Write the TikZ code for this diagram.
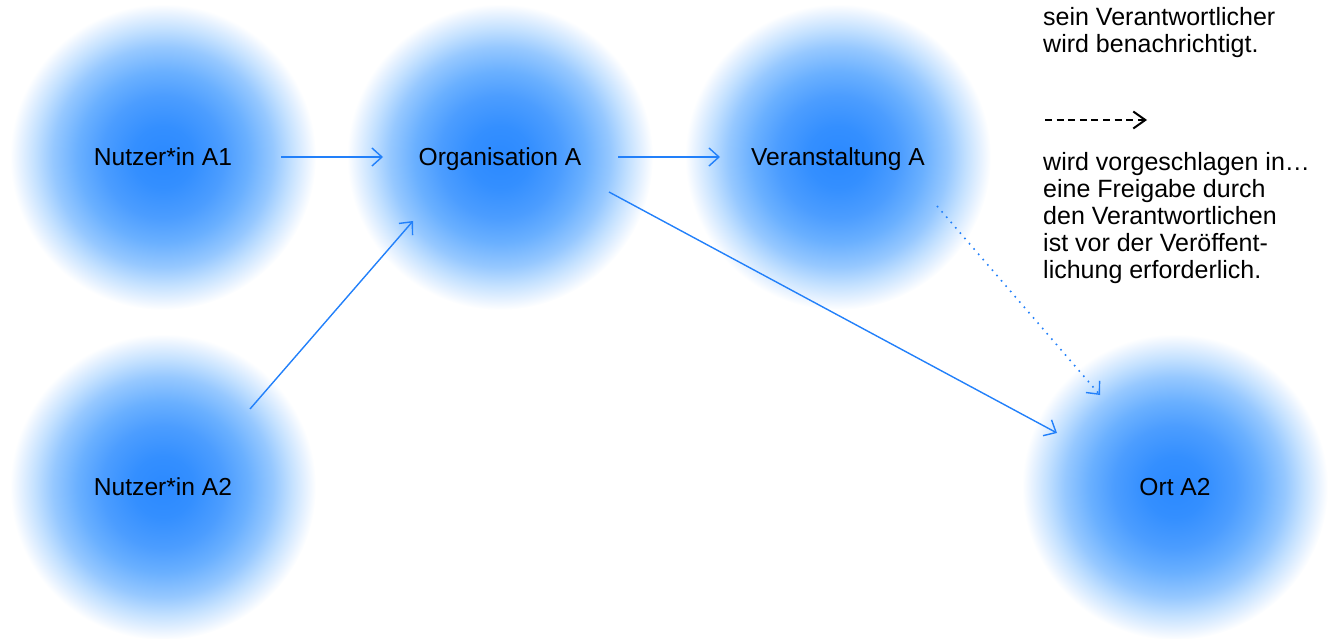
\documentclass[tikz,border=0pt]{standalone}
\usepackage{fontspec}
\setmainfont{Liberation Sans}
\usetikzlibrary{arrows.meta,calc}

% soft blue blob: saturated centre fading to white at the rim (25bp = circle radius)
\definecolor{blobA}{RGB}{43,137,255}
\definecolor{blobB}{RGB}{52,143,255}
\definecolor{blobC}{RGB}{76,157,255}
\definecolor{blobD}{RGB}{106,176,255}
\definecolor{blobE}{RGB}{150,200,255}
\definecolor{blobF}{RGB}{196,225,255}
\definecolor{blobG}{RGB}{233,243,255}
\definecolor{linkblue}{RGB}{34,128,250}
\pgfdeclareradialshading{blobshade}{\pgfpoint{0bp}{0bp}}{%
  color(0bp)=(blobA); color(5bp)=(blobB); color(10bp)=(blobC);
  color(14bp)=(blobD); color(18bp)=(blobE); color(21bp)=(blobF);
  color(23.5bp)=(blobG); color(25bp)=(white); color(50bp)=(white)}

\begin{document}
\begin{tikzpicture}[x=1pt,y=-1pt,
  blob/.style={circle, minimum size=306pt, inner sep=0pt, shading=blobshade,
    font=\fontsize{24.6}{28}\selectfont, text height=17.6pt, text depth=0pt},
  link/.style={draw=linkblue, line width=1.4pt,
    -{Straight Barb[length=10pt,width=18pt,line width=1.4pt]}},
  proposal/.style={link, line width=1.6pt, dash pattern=on 1.6pt off 5.4pt},
  legendtext/.style={anchor=north west, inner sep=0pt, align=left,
    font=\fontsize{25}{27}\selectfont},
  legendarrow/.style={draw=black, line width=2pt, dash pattern=on 7pt off 4.6pt,
    -{Straight Barb[length=12pt,width=17pt,line width=2pt]}}]

\useasboundingbox (0,0) rectangle (1328,639);

% entities
\node[blob] (nA1) at (163,157) {Nutzer*in A1};
\node[blob] (orgA) at (500,157) {Organisation A};
\node[blob] (veranst) at (838,157) {Veranstaltung A};
\node[blob] (nA2) at (163,487) {Nutzer*in A2};
\node[blob] (ortA2) at (1175,487) {Ort A2};

% relations
\draw[link] ($(nA1)+(118,0)$) -- ($(orgA)+(-117,0)$);
\draw[link] ($(orgA)+(118,0)$) -- ($(veranst)+(-118,0)$);
\draw[link] ($(nA2)+(87,-78)$) -- ($(orgA)+(-87,64)$);
\draw[link] ($(orgA)+(109,35)$) -- ($(ortA2)+(-118,-54)$);
\draw[proposal] ($(veranst)+(99,49)$) -- ($(ortA2)+(-75,-92)$);

% legend
\node[legendtext] (legTop) at (1043,7.5) {sein Verantwortlicher\\wird benachrichtigt.};
\coordinate (legS) at (1045,120);
\coordinate (legE) at (1147,120);
\draw[legendarrow] (legS) -- (legE);
\node[legendtext] (legBot) at (1043,152) {wird vorgeschlagen in…\\eine Freigabe durch\\den Verantwortlichen\\ist vor der Veröffent-\\lichung erforderlich.};
\end{tikzpicture}
\end{document}
